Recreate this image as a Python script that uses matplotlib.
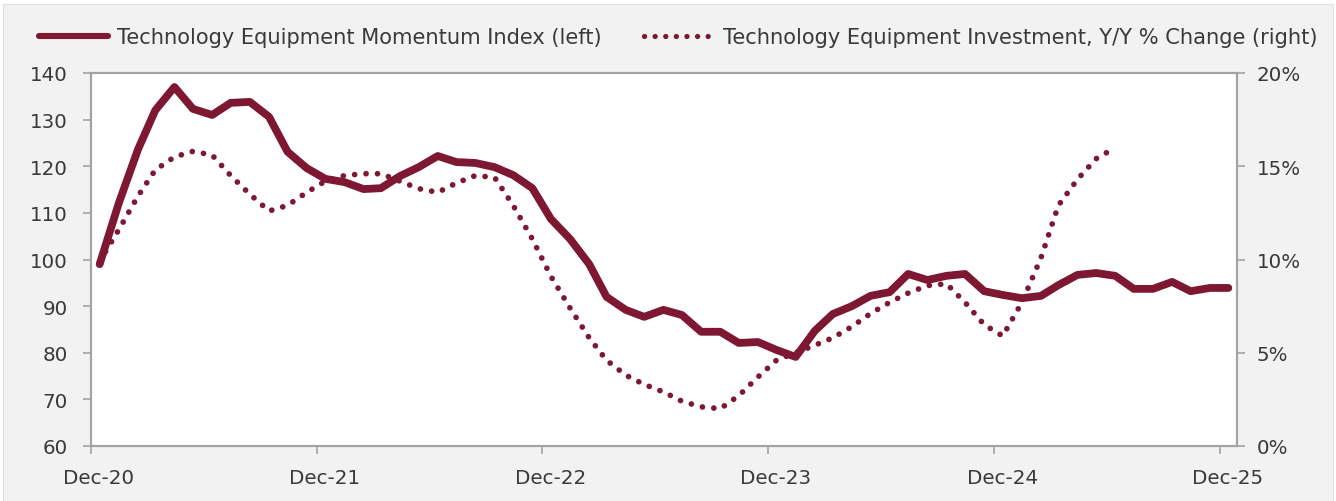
import numpy as np
import pandas as pd
import matplotlib
matplotlib.use("Agg")
import matplotlib.pyplot as plt
import matplotlib.dates as mdates
import matplotlib.transforms as mtransforms
from matplotlib.lines import Line2D
from matplotlib.patches import Rectangle
from matplotlib.ticker import PercentFormatter

# ---------------------------------------------------------------------------
# Data (monthly, mid-month)
# ---------------------------------------------------------------------------
momentum_index = [
    99.0, 112.1, 123.6, 132.0, 137.0, 132.3, 131.0, 133.6, 133.8, 130.6,
    123.1, 119.6, 117.3, 116.6, 115.1, 115.3, 117.9, 119.8, 122.2, 120.9,
    120.7, 119.8, 118.1, 115.3, 108.7, 104.4, 99.0, 92.0, 89.2, 87.7,
    89.2, 88.1, 84.5, 84.5, 82.1, 82.3, 80.6, 79.1, 84.7, 88.3,
    90.0, 92.2, 93.0, 96.9, 95.6, 96.5, 96.9, 93.2, 92.4, 91.7,
    92.2, 94.5, 96.7, 97.1, 96.5, 93.7, 93.7, 95.2, 93.2, 93.9,
    93.9,
]
investment_yoy = [
    9.9, 11.6, 13.4, 14.8, 15.5, 15.8, 15.6, 14.5, 13.5, 12.6,
    12.9, 13.6, 14.2, 14.5, 14.6, 14.6, 14.2, 13.8, 13.6, 14.1,
    14.5, 14.4, 12.9, 11.1, 9.1, 7.4, 5.8, 4.6, 3.8, 3.3,
    2.9, 2.4, 2.1, 2.0, 2.7, 3.7, 4.6, 5.0, 5.4, 5.8,
    6.4, 7.1, 7.7, 8.2, 8.6, 8.7, 7.7, 6.5, 5.9, 7.7,
    10.1, 12.9, 14.3, 15.4, 16.0,
]
months = pd.date_range("2020-12-01", periods=len(momentum_index), freq="MS") + pd.Timedelta(days=14)
inv_months = months[:len(investment_yoy)]

LABEL_LEFT = "Technology Equipment Momentum Index (left)"
LABEL_RIGHT = "Technology Equipment Investment, Y/Y % Change (right)"

MAROON = "#7d1732"
AXIS_GRAY = "#a3a3a3"
TEXT = "#3a3a3a"
BG = "#f2f2f2"
DOTS = (0, (0.01, 2.0))

plt.rcParams["font.family"] = ["DejaVu Sans"]

# ---------------------------------------------------------------------------
# Figure
# ---------------------------------------------------------------------------
fig = plt.figure(figsize=(13.36, 5.02), dpi=100, facecolor="white")
fig.patches.append(Rectangle((3 / 1336, 0), 1330 / 1336, 497 / 502,
                             transform=fig.transFigure, facecolor=BG,
                             edgecolor="#e0e0e0", lw=0.8, zorder=-10))

ax = fig.add_axes([91 / 1336, 55 / 502, 1146 / 1336, 373 / 502])
ax.set_facecolor("white")
ax2 = ax.twinx()

ax.plot(months, momentum_index, color=MAROON, lw=5.6,
        solid_capstyle="round", solid_joinstyle="round", zorder=3)
ax2.plot(inv_months, investment_yoy, color=MAROON, lw=4.1,
         linestyle=DOTS, dash_capstyle="round", zorder=2)

ax.set_ylim(60, 140)
ax.set_yticks(range(60, 141, 10))
ax2.set_ylim(0, 20)
ax2.set_yticks(range(0, 21, 5))
ax2.yaxis.set_major_formatter(PercentFormatter(decimals=0))

ax.set_xlim(pd.Timestamp("2020-12-01"), pd.Timestamp("2025-12-29"))
ticks = pd.date_range("2020-12-01", "2025-12-01", freq="12MS")
ax.set_xticks(ticks)
ax.xaxis.set_major_formatter(mdates.DateFormatter("%b-%y"))

for a in (ax, ax2):
    for sp in a.spines.values():
        sp.set_color(AXIS_GRAY)
        sp.set_linewidth(1.5)
    a.tick_params(colors=AXIS_GRAY, labelcolor=TEXT, labelsize=14.3,
                  length=6, width=1.2)
ax.tick_params(axis="x", pad=10)
ax.tick_params(axis="y", pad=10.5)
ax2.tick_params(axis="y", pad=8)

# Excel puts the date labels a little right of the tick marks
shift = mtransforms.ScaledTranslation(8 / 100, 0, fig.dpi_scale_trans)
for lbl in ax.get_xticklabels():
    lbl.set_transform(lbl.get_transform() + shift)

# Legend above the plot area
handles = [
    Line2D([], [], color=MAROON, lw=4.4, solid_capstyle="round"),
    Line2D([], [], color=MAROON, lw=3.8, linestyle=DOTS,
           dash_capstyle="round"),
]
fig.legend(handles, [LABEL_LEFT, LABEL_RIGHT], loc="center",
           bbox_to_anchor=(678 / 1336, 1 - 38 / 502), ncol=2, frameon=False,
           fontsize=15.1, labelcolor=TEXT, handlelength=3.3,
           handletextpad=0.45, columnspacing=2.0)

fig.savefig("out.png", dpi=100, facecolor=fig.get_facecolor())
